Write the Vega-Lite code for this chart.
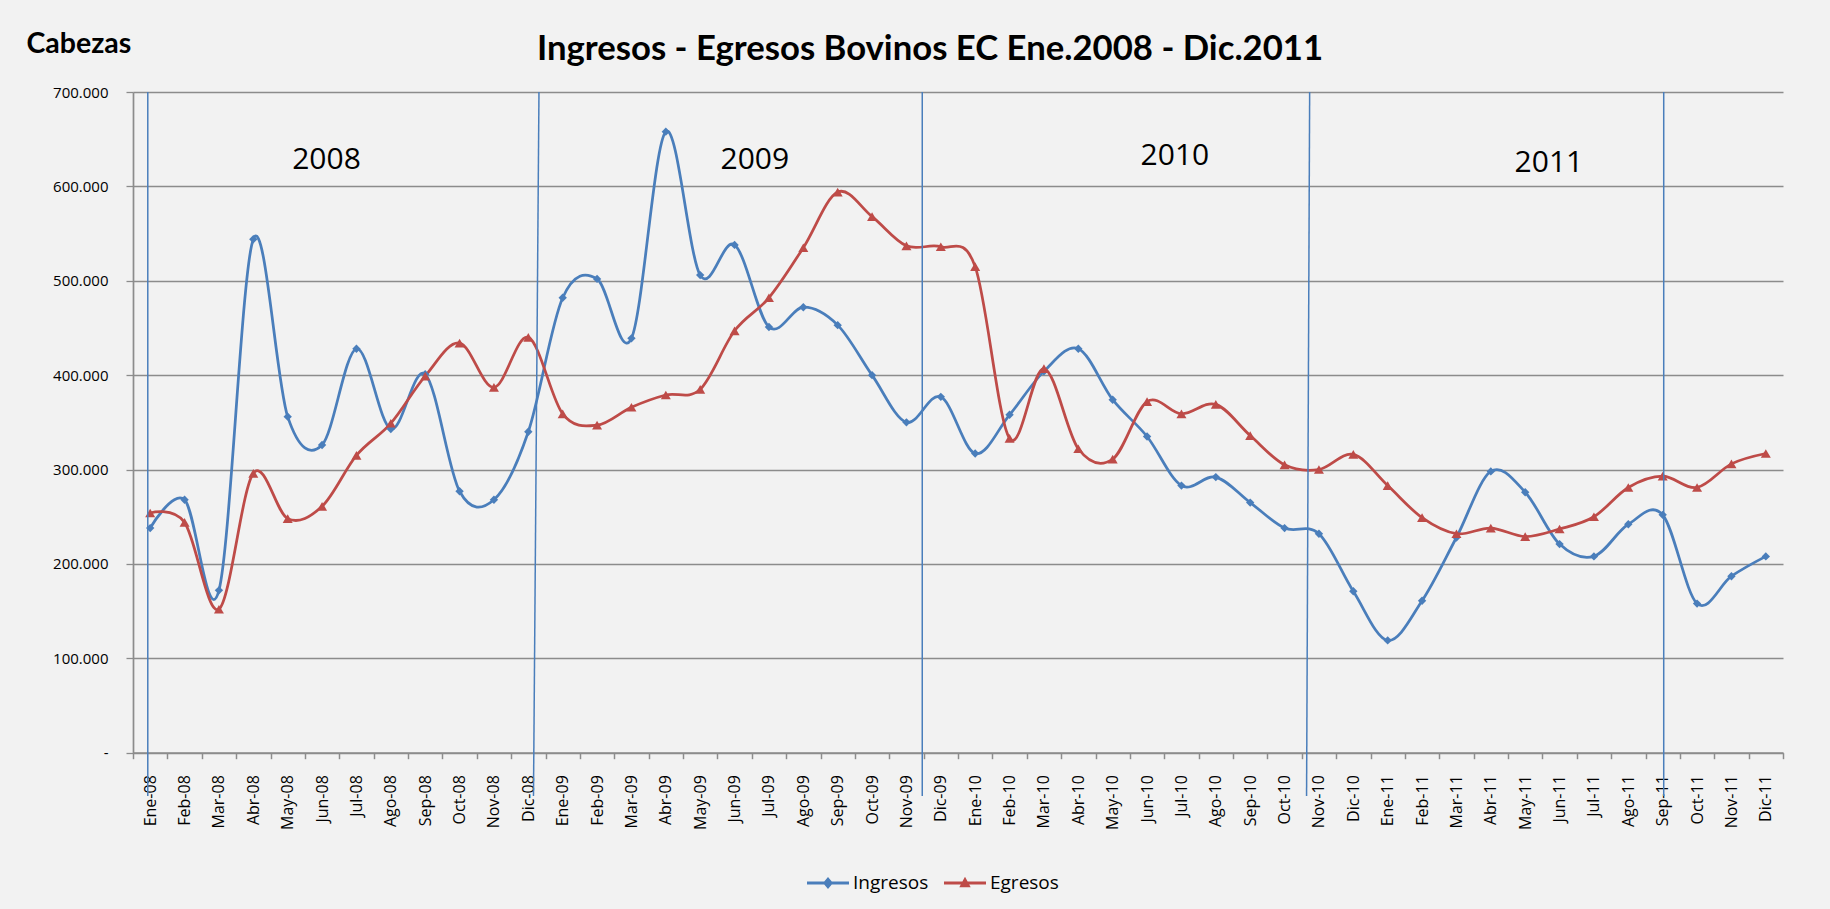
{
  "$schema": "https://vega.github.io/schema/vega-lite/v6.json",
  "width": 1650,
  "height": 660.7,
  "autosize": {"type": "none"},
  "padding": {"left": 133, "top": 92, "right": 47, "bottom": 156.3},
  "background": "#F2F2F2",
  "config": {"view": {"stroke": null}, "font": "Open Sans"},
  "title": {
    "text": "Ingresos - Egresos Bovinos EC Ene.2008 - Dic.2011",
    "font": "Lato", "fontSize": 34.7, "fontWeight": "bold", "color": "#000000",
    "anchor": "middle", "frame": "group", "baseline": "alphabetic", "offset": 0, "dy": 66, "dx": -28
  },
  "datasets": {
    "datos": [
      {"i": 0, "mes": "Ene-08", "Ingresos": 238000, "Egresos": 254000},
      {"i": 1, "mes": "Feb-08", "Ingresos": 268000, "Egresos": 244000},
      {"i": 2, "mes": "Mar-08", "Ingresos": 172000, "Egresos": 152000},
      {"i": 3, "mes": "Abr-08", "Ingresos": 544000, "Egresos": 296000},
      {"i": 4, "mes": "May-08", "Ingresos": 356000, "Egresos": 248000},
      {"i": 5, "mes": "Jun-08", "Ingresos": 326000, "Egresos": 261000},
      {"i": 6, "mes": "Jul-08", "Ingresos": 428000, "Egresos": 315000},
      {"i": 7, "mes": "Ago-08", "Ingresos": 343000, "Egresos": 349000},
      {"i": 8, "mes": "Sep-08", "Ingresos": 401000, "Egresos": 399000},
      {"i": 9, "mes": "Oct-08", "Ingresos": 277000, "Egresos": 434000},
      {"i": 10, "mes": "Nov-08", "Ingresos": 268000, "Egresos": 387000},
      {"i": 11, "mes": "Dic-08", "Ingresos": 340000, "Egresos": 440000},
      {"i": 12, "mes": "Ene-09", "Ingresos": 482000, "Egresos": 359000},
      {"i": 13, "mes": "Feb-09", "Ingresos": 502000, "Egresos": 347000},
      {"i": 14, "mes": "Mar-09", "Ingresos": 439000, "Egresos": 366000},
      {"i": 15, "mes": "Abr-09", "Ingresos": 658000, "Egresos": 379000},
      {"i": 16, "mes": "May-09", "Ingresos": 506000, "Egresos": 385000},
      {"i": 17, "mes": "Jun-09", "Ingresos": 538000, "Egresos": 447000},
      {"i": 18, "mes": "Jul-09", "Ingresos": 451000, "Egresos": 482000},
      {"i": 19, "mes": "Ago-09", "Ingresos": 472000, "Egresos": 535000},
      {"i": 20, "mes": "Sep-09", "Ingresos": 453000, "Egresos": 594000},
      {"i": 21, "mes": "Oct-09", "Ingresos": 400000, "Egresos": 568000},
      {"i": 22, "mes": "Nov-09", "Ingresos": 350000, "Egresos": 537000},
      {"i": 23, "mes": "Dic-09", "Ingresos": 377000, "Egresos": 536000},
      {"i": 24, "mes": "Ene-10", "Ingresos": 317000, "Egresos": 515000},
      {"i": 25, "mes": "Feb-10", "Ingresos": 358000, "Egresos": 333000},
      {"i": 26, "mes": "Mar-10", "Ingresos": 404000, "Egresos": 407000},
      {"i": 27, "mes": "Abr-10", "Ingresos": 428000, "Egresos": 322000},
      {"i": 28, "mes": "May-10", "Ingresos": 374000, "Egresos": 311000},
      {"i": 29, "mes": "Jun-10", "Ingresos": 335000, "Egresos": 372000},
      {"i": 30, "mes": "Jul-10", "Ingresos": 283000, "Egresos": 359000},
      {"i": 31, "mes": "Ago-10", "Ingresos": 292000, "Egresos": 369000},
      {"i": 32, "mes": "Sep-10", "Ingresos": 265000, "Egresos": 336000},
      {"i": 33, "mes": "Oct-10", "Ingresos": 238000, "Egresos": 305000},
      {"i": 34, "mes": "Nov-10", "Ingresos": 232000, "Egresos": 300000},
      {"i": 35, "mes": "Dic-10", "Ingresos": 171000, "Egresos": 316000},
      {"i": 36, "mes": "Ene-11", "Ingresos": 119000, "Egresos": 283000},
      {"i": 37, "mes": "Feb-11", "Ingresos": 161000, "Egresos": 249000},
      {"i": 38, "mes": "Mar-11", "Ingresos": 228000, "Egresos": 232000},
      {"i": 39, "mes": "Abr-11", "Ingresos": 298000, "Egresos": 238000},
      {"i": 40, "mes": "May-11", "Ingresos": 276000, "Egresos": 229000},
      {"i": 41, "mes": "Jun-11", "Ingresos": 221000, "Egresos": 237000},
      {"i": 42, "mes": "Jul-11", "Ingresos": 208000, "Egresos": 250000},
      {"i": 43, "mes": "Ago-11", "Ingresos": 242000, "Egresos": 281000},
      {"i": 44, "mes": "Sep-11", "Ingresos": 252000, "Egresos": 293000},
      {"i": 45, "mes": "Oct-11", "Ingresos": 158000, "Egresos": 281000},
      {"i": 46, "mes": "Nov-11", "Ingresos": 187000, "Egresos": 306000},
      {"i": 47, "mes": "Dic-11", "Ingresos": 208000, "Egresos": 317000}
    ],
    "separadores": [
      {"i": -0.07, "i2": -0.07, "cabezas": 700000, "cabezas2": -46000},
      {"i": 11.31, "i2": 11.15, "cabezas": 700000, "cabezas2": -46000},
      {"i": 22.46, "i2": 22.46, "cabezas": 700000, "cabezas2": -46000},
      {"i": 33.73, "i2": 33.64, "cabezas": 700000, "cabezas2": -46000},
      {"i": 44.03, "i2": 44.03, "cabezas": 700000, "cabezas2": -46000}
    ],
    "anios": [
      {"anio": "2008", "i": 5.13, "cabezas": 628000},
      {"anio": "2009", "i": 17.59, "cabezas": 628000},
      {"anio": "2010", "i": 29.81, "cabezas": 632000},
      {"anio": "2011", "i": 40.69, "cabezas": 625000}
    ]
  },
  "encoding": {
    "x": {
      "field": "i", "type": "quantitative",
      "scale": {"domain": [-0.5, 47.5], "nice": false, "zero": false},
      "axis": {
        "title": null,
        "values": [-0.5, 0, 0.5, 1, 1.5, 2, 2.5, 3, 3.5, 4, 4.5, 5, 5.5, 6, 6.5, 7, 7.5, 8, 8.5, 9, 9.5, 10, 10.5, 11, 11.5, 12, 12.5, 13, 13.5, 14, 14.5, 15, 15.5, 16, 16.5, 17, 17.5, 18, 18.5, 19, 19.5, 20, 20.5, 21, 21.5, 22, 22.5, 23, 23.5, 24, 24.5, 25, 25.5, 26, 26.5, 27, 27.5, 28, 28.5, 29, 29.5, 30, 30.5, 31, 31.5, 32, 32.5, 33, 33.5, 34, 34.5, 35, 35.5, 36, 36.5, 37, 37.5, 38, 38.5, 39, 39.5, 40, 40.5, 41, 41.5, 42, 42.5, 43, 43.5, 44, 44.5, 45, 45.5, 46, 46.5, 47, 47.5],
        "labelExpr": "datum.value % 1 === 0 ? ['Ene-08','Feb-08','Mar-08','Abr-08','May-08','Jun-08','Jul-08','Ago-08','Sep-08','Oct-08','Nov-08','Dic-08','Ene-09','Feb-09','Mar-09','Abr-09','May-09','Jun-09','Jul-09','Ago-09','Sep-09','Oct-09','Nov-09','Dic-09','Ene-10','Feb-10','Mar-10','Abr-10','May-10','Jun-10','Jul-10','Ago-10','Sep-10','Oct-10','Nov-10','Dic-10','Ene-11','Feb-11','Mar-11','Abr-11','May-11','Jun-11','Jul-11','Ago-11','Sep-11','Oct-11','Nov-11','Dic-11'][datum.value] : ''",
        "labelAngle": -90,
        "labelAlign": "right",
        "labelBaseline": "middle",
        "labelFont": "Open Sans", "labelFontSize": 16, "labelColor": "#000000",
        "labelPadding": 16, "labelOverlap": false, "labelFlush": false, "labelBound": false,
        "tickSize": 6, "tickColor": "#8C8C8C", "tickWidth": 1.5,
        "tickOpacity": {"condition": {"test": "datum.value % 1 !== 0", "value": 1}, "value": 0},
        "grid": false,
        "domainColor": "#8C8C8C", "domainWidth": 1.7
      }
    },
    "y": {
      "field": "cabezas", "type": "quantitative",
      "scale": {"domain": [0, 700000], "nice": false},
      "axis": {
        "title": "Cabezas",
        "titleAngle": 0, "titleAlign": "left", "titleBaseline": "alphabetic",
        "titleX": -107, "titleY": -40,
        "titleFont": "Lato", "titleFontSize": 28.5, "titleFontWeight": "bold", "titleColor": "#000000",
        "values": [0, 100000, 200000, 300000, 400000, 500000, 600000, 700000],
        "labelExpr": "datum.value === 0 ? '-' : (datum.value / 1000) + '.000'",
        "labelFont": "Open Sans", "labelFontSize": 15, "labelColor": "#000000",
        "labelPadding": 18,
        "tickSize": 7, "tickColor": "#8C8C8C", "tickWidth": 1.3,
        "grid": true, "gridColor": "#8C8C8C", "gridWidth": 1.3,
        "domainColor": "#8C8C8C", "domainWidth": 1.7
      }
    }
  },
  "layer": [
    {
      "data": {"name": "datos"},
      "transform": [{"fold": ["Ingresos", "Egresos"], "as": ["serie", "cabezas"]}],
      "mark": {"type": "line", "interpolate": "cardinal", "strokeWidth": 2.75},
      "encoding": {
        "color": {
          "field": "serie", "type": "nominal",
          "scale": {"domain": ["Ingresos", "Egresos"], "range": ["#4A7EBB", "#BE4B48"]},
          "legend": {
            "orient": "none", "legendX": 674, "legendY": 770, "direction": "horizontal",
            "title": null, "padding": 0,
            "symbolSize": 1764, "symbolStrokeWidth": 0,
            "labelFont": "Open Sans", "labelFontSize": 19, "labelColor": "#000000",
            "columnPadding": 15, "labelOffset": 4,
            "encode": {
              "symbols": {
                "update": {
                  "shape": {"signal": "datum.value === 'Ingresos' ? 'M-1,-0.07L-0.18,-0.07L0,-0.28L0.18,-0.07L1,-0.07L1,0.07L0.18,0.07L0,0.28L-0.18,0.07L-1,0.07Z' : 'M-1,-0.07L-0.124,-0.07L0,-0.3L0.124,-0.07L1,-0.07L1,0.07L0.2,0.07L0.27,0.2L-0.27,0.2L-0.2,0.07L-1,0.07Z'"},
                  "size": {"value": 1764},
                  "fill": {"signal": "datum.value === 'Ingresos' ? '#4A7EBB' : '#BE4B48'"},
                  "fillOpacity": {"value": 1},
                  "opacity": {"value": 1}
                }
              }
            }
          }
        }
      }
    },
    {
      "data": {"name": "datos"},
      "mark": {"type": "point", "filled": true, "opacity": 1, "shape": "diamond", "size": 70, "color": "#4A7EBB"},
      "encoding": {
        "y": {"field": "Ingresos", "type": "quantitative"}
      }
    },
    {
      "data": {"name": "datos"},
      "mark": {"type": "point", "filled": true, "opacity": 1, "shape": "triangle-up", "size": 100, "color": "#BE4B48"},
      "encoding": {
        "y": {"field": "Egresos", "type": "quantitative"}
      }
    },
    {
      "data": {"name": "separadores"},
      "mark": {"type": "rule", "color": "#4A7EBB", "strokeWidth": 1.5, "clip": false},
      "encoding": {
        "x2": {"field": "i2"},
        "y2": {"field": "cabezas2"}
      }
    },
    {
      "data": {"name": "anios"},
      "mark": {"type": "text", "font": "Open Sans", "fontSize": 30, "color": "#000000", "align": "center", "baseline": "middle"},
      "encoding": {
        "text": {"field": "anio", "type": "nominal"}
      }
    }
  ]
}
